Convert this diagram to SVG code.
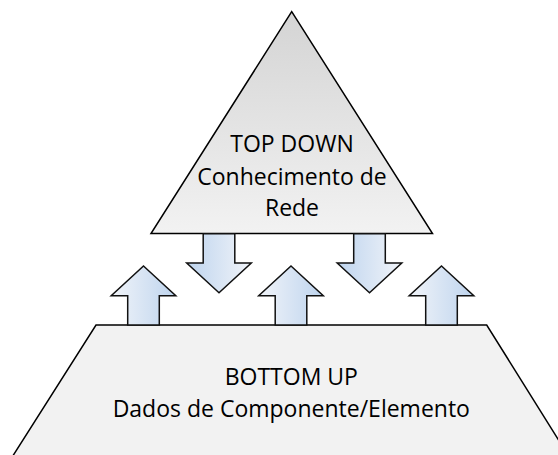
<svg xmlns="http://www.w3.org/2000/svg" width="558" height="455" viewBox="0 0 558 455">
<defs>
<linearGradient id="triGrad" x1="0" y1="0" x2="0" y2="1">
<stop offset="0" stop-color="#d4d4d4"/>
<stop offset="1" stop-color="#f2f2f2"/>
</linearGradient>
<linearGradient id="arrowGrad" x1="0" y1="0" x2="1" y2="0">
<stop offset="0" stop-color="#f1f4f9"/>
<stop offset="1" stop-color="#bed4ee"/>
</linearGradient>
<path id="upArrow" d="M0,0 L32.3,29.7 L15.8,29.7 L15.8,59 L-15.8,59 L-15.8,29.7 L-32.3,29.7 Z"/>
</defs>
<style>
.shape{stroke:#000;stroke-width:1.5;stroke-linejoin:miter}
.arrow{fill:url(#arrowGrad);stroke:#111;stroke-width:1.5;stroke-linejoin:miter}
.lbl{font-family:"Open Sans","Noto Sans",sans-serif;font-size:23px;fill:#000;text-anchor:middle}
</style>
<g id="bottom-up">
<polygon class="shape" fill="#f2f2f2" points="96,325 486.7,325 577.3,470 3.9,470"/>
<text class="lbl" x="291.3" y="385">BOTTOM UP</text>
<text class="lbl" x="291.3" y="416.5">Dados de Componente/Elemento</text>
</g>
<g id="top-down">
<polygon class="shape" fill="url(#triGrad)" points="291.7,11.7 432.5,233.5 151,233.5"/>
<text class="lbl" x="292" y="152">TOP DOWN</text>
<text class="lbl" x="292" y="184.5">Conhecimento de</text>
<text class="lbl" x="292" y="216">Rede</text>
</g>
<g id="connectors">
<use href="#upArrow" class="arrow" transform="translate(143.5,266)"/>
<use href="#upArrow" class="arrow" transform="translate(291,266)"/>
<use href="#upArrow" class="arrow" transform="translate(441.5,266)"/>
<use href="#upArrow" class="arrow" transform="translate(219,292.7) rotate(180)"/>
<use href="#upArrow" class="arrow" transform="translate(369.5,292.7) rotate(180)"/>
</g>
</svg>
